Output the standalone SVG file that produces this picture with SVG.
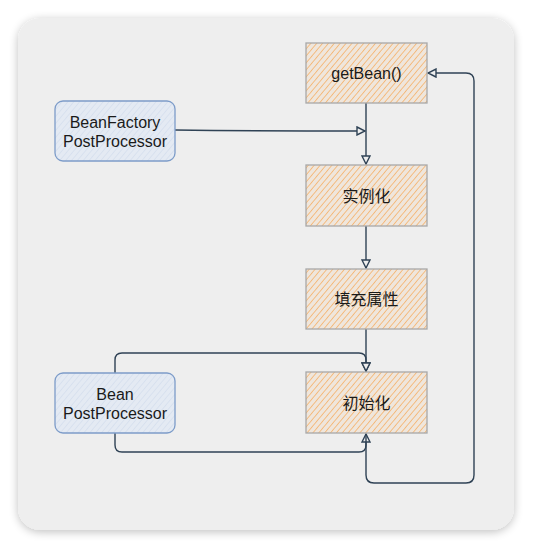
<svg xmlns="http://www.w3.org/2000/svg" width="533" height="550" viewBox="0 0 533 550">
<defs>
<filter id="sh" x="-10%" y="-10%" width="120%" height="120%">
<feGaussianBlur in="SourceAlpha" stdDeviation="5"/>
<feOffset dx="0" dy="2"/>
<feComponentTransfer><feFuncA type="linear" slope="0.25"/></feComponentTransfer>
<feMerge><feMergeNode/><feMergeNode in="SourceGraphic"/></feMerge>
</filter>
<pattern id="hatchO" width="4.5" height="4.5" patternUnits="userSpaceOnUse" patternTransform="rotate(40)">
<rect width="4.5" height="4.5" fill="#efe6dc"/>
<line x1="0" y1="0" x2="0" y2="4.5" stroke="#f5b26c" stroke-width="1.6"/>
</pattern>
<pattern id="hatchB" width="4.5" height="4.5" patternUnits="userSpaceOnUse" patternTransform="rotate(40)">
<rect width="4.5" height="4.5" fill="#e4eaf3"/>
<line x1="0" y1="0" x2="0" y2="4.5" stroke="#d3ddec" stroke-width="1.3"/>
</pattern>
<marker id="arr" viewBox="0 0 10 10" refX="9" refY="5" markerWidth="10" markerHeight="10" markerUnits="userSpaceOnUse" orient="auto">
<path d="M1,1 L9,5 L1,9 Z" fill="#eeeeee" stroke="#2f4255" stroke-width="1.4"/>
</marker>
<style>
.proc rect{fill:url(#hatchO);stroke:#a8a8a8;stroke-width:1.3}
.pp rect{fill:url(#hatchB);stroke:#7d9cc9;stroke-width:1.3}
text{font-family:"Liberation Sans","Noto Sans CJK SC",sans-serif;font-size:16px;fill:#1a1a1a;text-anchor:middle}
.c path{fill:none;stroke:#2f4255;stroke-width:1.4}
</style>
</defs>
<rect x="18" y="18" width="496" height="512" rx="22" fill="#eeeeee" filter="url(#sh)"/>
<g class="c" id="connectors">
<path d="M366,103 V164" marker-end="url(#arr)"/>
<path d="M175,130 C250,131 300,131 365,131" marker-end="url(#arr)"/>
<path d="M366,226 V268" marker-end="url(#arr)"/>
<path d="M366,329 V371" marker-end="url(#arr)"/>
<path d="M115,373 V360 Q115,353 122,353 H359 Q366,353 366,360 V371" marker-end="url(#arr)"/>
<path d="M115,433 V445 Q115,452 122,452 H359 Q366,452 366,445 V434" marker-end="url(#arr)"/>
<path d="M366,434 V475 Q366,483 374,483 H466 Q474,483 474,475 V81 Q474,73 466,73 H428" marker-end="url(#arr)"/>
</g>
<g class="proc" id="getBean"><rect x="306" y="43" width="121" height="60"/><text x="366.5" y="79">getBean()</text></g>
<g class="proc" id="instantiate"><rect x="306" y="165" width="121" height="61"/><text x="366.5" y="201.5">实例化</text></g>
<g class="proc" id="populate"><rect x="306" y="269" width="121" height="60"/><text x="366.5" y="305">填充属性</text></g>
<g class="proc" id="init"><rect x="306" y="372" width="121" height="61"/><text x="366.5" y="408.5">初始化</text></g>
<g class="pp" id="bfpp"><rect x="55" y="101" width="120" height="60" rx="8"/><text x="115" y="128">BeanFactory</text><text x="115" y="147">PostProcessor</text></g>
<g class="pp" id="bpp"><rect x="55" y="373" width="120" height="60" rx="8"/><text x="115" y="400">Bean</text><text x="115" y="419">PostProcessor</text></g>
</svg>
